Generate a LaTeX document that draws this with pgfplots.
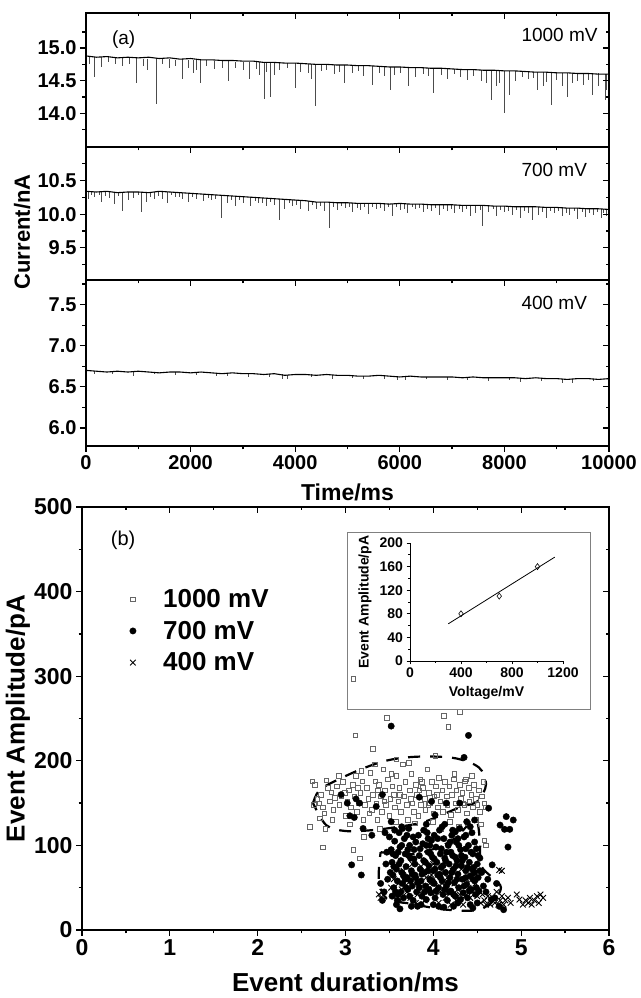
\documentclass[border=0pt]{standalone}
\usepackage{pgfplots}
\pgfplotsset{compat=1.18}
\usepackage{fontspec}
\setmainfont{Liberation Sans}

\tikzset{vlab/.style={font=\fontsize{19}{22}\selectfont, anchor=west}}
\pgfplotsset{
  frame/.style={scale only axis, anchor=south west,
    axis line style={line width=1.8pt}, tick style={line width=1.3pt, black},
    major tick length=6pt, minor tick length=3.5pt,
    tick align=outside, xtick pos=left, ytick pos=left,
    ticklabel style={font=\bfseries\fontsize{20}{24}\selectfont},
    /pgf/number format/assume math mode=true,
    /pgf/number format/set thousands separator={},
    scaled ticks=false},
  mirror/.style={scale only axis, anchor=south west, scaled ticks=false,
    axis line style={line width=1.8pt}, tick style={line width=1.3pt, black},
    major tick length=6pt, minor tick length=3.5pt,
    tick align=inside, xtick pos=right, ytick pos=right,
    xticklabels={}, yticklabels={}},
  pa/.style={width=523pt, xmin=0, xmax=10000,
    xtick={0,2000,...,10000}, minor xtick={1000,3000,...,9000},
    yticklabel style={/pgf/number format/.cd, fixed, fixed zerofill, precision=1}},
  p1/.style={pa, at={(86pt,851pt)}, height=134pt, ymin=13.48, ymax=15.54,
    ytick={14,14.5,15}, minor ytick={13.75,14.25,14.75,15.25}},
  p2/.style={pa, at={(86pt,718pt)}, height=133pt, ymin=9.02, ymax=11.0,
    ytick={9.5,10,10.5}, minor ytick={9.25,9.75,10.25,10.75}},
  p3/.style={pa, at={(86pt,552pt)}, height=166pt, ymin=5.78, ymax=7.8,
    ytick={6,6.5,7,7.5}, minor ytick={6.25,6.75,7.25,7.75}},
  pb/.style={at={(82pt,68pt)}, width=527pt, height=423pt,
    xmin=0, xmax=6, ymin=0, ymax=500,
    xtick={0,...,6}, minor xtick={0.5,1.5,...,5.5},
    ytick={0,100,...,500}, minor ytick={50,150,...,450}},
  trace/.style={black, mark=none, line width=1.1pt},
  spikes/.style={draw=none, mark=none, error bars/.cd, y dir=minus, y explicit,
    error mark=none, error bar style={draw=black!70, line width=0.6pt}},
}

\begin{document}
\begin{tikzpicture}
\useasboundingbox (0,0) rectangle (640pt,998pt);

% ---------- (a) 1000 mV ----------
\begin{axis}[frame, p1, xticklabels={}]
\addplot[spikes] table[x=t, y=b, y error=d] {
t b d
60 14.87 .12
160 14.87 .31
300 14.86 .15
420 14.86 .08
560 14.85 .10
700 14.85 .13
820 14.85 .09
967 14.86 .39
1100 14.84 .11
1180 14.84 .18
1348 14.85 .71
1450 14.83 .07
1600 14.83 .14
1700 14.82 .09
1844 14.83 .31
1950 14.82 .12
2050 14.81 .20
2100 14.81 .15
2194 14.82 .35
2300 14.81 .08
2450 14.80 .12
2600 14.80 .10
2715 14.80 .31
2850 14.79 .09
3000 14.79 .12
3129 14.79 .27
3250 14.78 .10
3320 14.78 .20
3402 14.78 .56
3450 14.78 .15
3524 14.78 .53
3600 14.77 .18
3700 14.77 .10
3850 14.77 .08
4007 14.77 .39
4100 14.76 .12
4250 14.76 .15
4300 14.75 .22
4388 14.75 .64
4500 14.75 .10
4600 14.75 .08
4750 14.74 .14
4850 14.74 .10
4942 14.74 .28
5100 14.73 .12
5200 14.73 .08
5300 14.73 .16
5482 14.73 .30
5600 14.72 .10
5700 14.72 .15
5813 14.71 .36
5900 14.71 .12
6000 14.71 .09
6167 14.70 .28
6300 14.70 .14
6450 14.70 .10
6550 14.69 .12
6640 14.69 .38
6800 14.69 .10
6900 14.68 .15
7050 14.68 .08
7150 14.68 .12
7300 14.67 .16
7400 14.67 .10
7550 14.67 .18
7650 14.66 .20
7740 14.66 .45
7850 14.66 .25
7900 14.66 .20
7994 14.65 .65
8102 14.65 .37
8200 14.65 .15
8350 14.64 .09
8450 14.64 .12
8550 14.64 .10
8629 14.63 .27
8750 14.63 .22
8800 14.63 .15
8903 14.63 .51
9000 14.63 .12
9100 14.62 .20
9201 14.62 .37
9300 14.62 .15
9400 14.62 .12
9500 14.61 .18
9600 14.61 .10
9678 14.61 .33
9800 14.61 .20
9921 14.60 .40
9950 14.60 .25
};
\addplot[trace] table {
0 14.88
200 14.86
400 14.87
600 14.85
800 14.86
1000 14.85
1200 14.86
1400 14.84
1600 14.85
1800 14.83
2000 14.84
2200 14.82
2400 14.82
2600 14.81
2800 14.81
3000 14.80
3200 14.80
3400 14.78
3600 14.78
3800 14.77
4000 14.77
4200 14.76
4400 14.75
4600 14.75
4800 14.74
5000 14.74
5200 14.73
5400 14.73
5600 14.72
5800 14.71
6000 14.71
6200 14.70
6400 14.70
6600 14.69
6800 14.69
7000 14.68
7200 14.67
7400 14.67
7600 14.66
7800 14.66
8000 14.65
8200 14.65
8400 14.64
8600 14.63
8800 14.63
9000 14.62
9200 14.62
9400 14.61
9600 14.61
9800 14.60
10000 14.60
};
\node[font=\fontsize{19}{22}\selectfont] at (rel axis cs:0.072,0.80) {(a)};
\node[vlab] at (rel axis cs:0.826,0.836) {1000 mV};
\end{axis}
\begin{axis}[mirror, p1]\end{axis}

% ---------- 700 mV ----------
\begin{axis}[frame, p2, xticklabels={}]
\addplot[spikes] table[x=t, y=b, y error=d] {
t b d
50 10.34 .12
100 10.34 .06
150 10.33 .08
250 10.33 .05
300 10.33 .15
370 10.34 .07
450 10.34 .10
550 10.33 .18
620 10.33 .06
700 10.33 .28
800 10.33 .12
900 10.33 .09
1000 10.33 .05
1062 10.33 .30
1150 10.32 .14
1230 10.32 .07
1300 10.33 .10
1380 10.33 .06
1450 10.34 .12
1550 10.33 .16
1630 10.33 .05
1700 10.33 .08
1780 10.32 .07
1850 10.32 .10
1950 10.31 .13
2030 10.31 .06
2100 10.31 .09
2250 10.30 .11
2330 10.29 .05
2400 10.29 .08
2480 10.29 .07
2589 10.28 .33
2700 10.28 .12
2780 10.27 .06
2850 10.27 .15
2930 10.26 .05
3000 10.26 .10
3150 10.25 .13
3230 10.25 .06
3300 10.25 .08
3380 10.24 .07
3450 10.24 .12
3530 10.23 .05
3600 10.23 .10
3702 10.23 .31
3800 10.22 .14
3880 10.22 .06
3950 10.21 .09
4030 10.21 .07
4100 10.20 .12
4250 10.20 .16
4330 10.19 .05
4400 10.18 .10
4480 10.18 .06
4550 10.18 .13
4656 10.18 .39
4730 10.17 .07
4800 10.17 .11
4880 10.17 .05
4950 10.17 .08
5030 10.17 .06
5100 10.17 .14
5180 10.16 .07
5250 10.16 .10
5330 10.16 .05
5400 10.16 .16
5480 10.16 .06
5550 10.16 .09
5630 10.16 .07
5700 10.16 .12
5780 10.15 .05
5850 10.15 .18
5930 10.16 .06
6000 10.16 .10
6080 10.15 .07
6150 10.15 .14
6230 10.15 .05
6300 10.15 .08
6380 10.15 .06
6450 10.15 .12
6530 10.14 .07
6600 10.14 .10
6680 10.14 .05
6750 10.14 .15
6830 10.14 .06
6900 10.14 .09
6980 10.14 .07
7050 10.14 .13
7130 10.13 .05
7200 10.13 .10
7280 10.13 .06
7350 10.13 .16
7450 10.13 .12
7530 10.13 .07
7582 10.13 .30
7700 10.13 .10
7780 10.12 .05
7850 10.12 .14
7930 10.12 .06
8000 10.12 .09
8080 10.12 .07
8150 10.11 .12
8230 10.11 .05
8300 10.11 .16
8380 10.11 .06
8450 10.11 .10
8530 10.11 .20
8650 10.11 .12
8730 10.10 .07
8800 10.10 .15
8880 10.10 .05
8950 10.10 .09
9030 10.10 .06
9100 10.10 .13
9180 10.09 .07
9250 10.09 .10
9330 10.09 .05
9400 10.09 .16
9480 10.09 .06
9550 10.08 .12
9630 10.08 .07
9700 10.08 .09
9780 10.08 .05
9850 10.08 .14
9900 10.07 .06
9950 10.07 .10
};
\addplot[trace] table {
0 10.34
200 10.33
400 10.34
600 10.32
800 10.33
1000 10.33
1200 10.32
1400 10.34
1600 10.33
1800 10.32
2000 10.31
2200 10.30
2400 10.29
2600 10.28
2800 10.27
3000 10.26
3200 10.25
3400 10.24
3600 10.23
3800 10.22
4000 10.21
4200 10.20
4400 10.18
4600 10.18
4800 10.17
5000 10.17
5200 10.16
5400 10.16
5600 10.16
5800 10.15
6000 10.16
6200 10.15
6400 10.15
6600 10.14
6800 10.14
7000 10.14
7200 10.13
7400 10.13
7600 10.13
7800 10.12
8000 10.12
8200 10.11
8400 10.11
8600 10.11
8800 10.10
9000 10.10
9200 10.09
9400 10.09
9600 10.08
9800 10.08
10000 10.07
};
\node[vlab] at (rel axis cs:0.826,0.827) {700 mV};
\end{axis}
\begin{axis}[mirror, p2]\end{axis}
\node[rotate=90, font=\bfseries\fontsize{22}{26}\selectfont] at (22pt,766pt) {Current/nA};

% ---------- 400 mV ----------
\begin{axis}[frame, p3, xlabel={Time/ms},
  xlabel style={at={(axis description cs:0.5,-0.277)}, anchor=center,
    font=\bfseries\fontsize{23}{26}\selectfont}]
\addplot[spikes] table[x=t, y=b, y error=d] {
t b d
150 6.69 .04
500 6.69 .03
900 6.68 .05
1300 6.68 .03
1700 6.68 .04
2100 6.67 .03
2500 6.67 .04
2700 6.66 .03
3100 6.66 .04
3500 6.65 .03
3750 6.65 .05
3850 6.64 .04
4300 6.65 .03
4700 6.64 .04
5100 6.64 .03
5300 6.63 .04
5700 6.63 .03
5950 6.63 .05
6100 6.62 .04
6500 6.62 .03
6900 6.62 .04
7300 6.61 .03
7700 6.61 .04
8100 6.61 .03
8300 6.61 .05
8700 6.60 .03
9100 6.60 .05
9300 6.59 .04
9700 6.60 .03
};
\addplot[trace] table {
0 6.70
200 6.69
400 6.68
600 6.69
800 6.68
1000 6.69
1200 6.68
1400 6.67
1600 6.68
1800 6.68
2000 6.67
2200 6.68
2400 6.67
2600 6.66
2800 6.67
3000 6.66
3200 6.66
3400 6.65
3600 6.66
3800 6.64
4000 6.65
4200 6.65
4400 6.64
4600 6.65
4800 6.64
5000 6.64
5200 6.63
5400 6.63
5600 6.64
5800 6.63
6000 6.62
6200 6.63
6400 6.62
6600 6.62
6800 6.62
7000 6.62
7200 6.61
7400 6.62
7600 6.61
7800 6.61
8000 6.61
8200 6.61
8400 6.60
8600 6.61
8800 6.60
9000 6.60
9200 6.59
9400 6.60
9600 6.60
9800 6.59
10000 6.60
};
\node[vlab] at (rel axis cs:0.826,0.861) {400 mV};
\end{axis}
\begin{axis}[mirror, p3]\end{axis}

% ---------- (b) ----------
\begin{axis}[frame, pb,
  ticklabel style={font=\bfseries\fontsize{23}{26}\selectfont},
  xlabel={Event duration/ms}, ylabel={Event Amplitude/pA},
  xlabel style={at={(axis description cs:0.5,-0.123)}, anchor=center},
  ylabel style={at={(axis description cs:-0.1215,0.5)}, anchor=center},
  label style={font=\bfseries\fontsize{26}{30}\selectfont},
  legend style={draw=none, fill=none, at={(0.075,0.815)}, anchor=north west,
    font=\bfseries\fontsize{26}{30}\selectfont, row sep=8pt},
  legend cell align=left,
  legend image code/.code={\path (0pt,0pt) (36pt,0pt);
    \draw[#1] plot coordinates {(8pt,0pt)};}]
\addplot[only marks, mark=square, mark size=2.3pt, black!60, mark options={line width=0.5pt}] table {
3.09 297
4.30 258
3.47 251
4.12 253
4.17 240
3.11 230
3.31 214
2.59 122
2.74 98
3.09 95
3.16 85
4.60 100
4.58 106
2.62 176
2.65 172
2.68 155
2.70 150
2.72 160
2.74 145
2.76 138
2.78 177
2.80 168
2.82 152
2.84 163
2.86 142
2.88 156
2.90 170
2.93 148
2.95 158
2.97 175
3.00 135
3.02 152
3.04 165
3.06 145
3.08 172
3.10 158
3.12 182
3.13 140
3.15 150
3.17 162
3.19 176
3.20 130
3.22 148
3.24 168
3.26 155
3.28 186
3.30 142
3.31 160
3.33 196
3.35 150
3.36 130
3.38 172
3.40 158
3.41 140
3.43 190
3.45 165
3.46 148
3.48 178
3.50 135
3.51 155
3.53 170
3.55 160
3.56 145
3.58 182
3.60 152
3.61 168
3.63 140
3.65 196
3.66 158
3.68 175
3.70 148
3.71 130
3.73 165
3.75 185
3.76 150
3.78 140
3.80 172
3.81 160
3.83 135
3.85 178
3.86 148
3.88 168
3.90 155
3.91 142
3.93 190
3.95 162
3.96 150
3.98 175
4.00 138
4.01 158
4.03 170
4.05 145
4.06 180
4.08 152
4.10 165
4.11 140
4.13 175
4.15 158
4.16 148
4.18 170
4.20 136
4.21 160
4.23 178
4.25 150
4.26 165
4.28 142
4.30 172
4.31 155
4.33 162
4.35 148
4.36 176
4.38 138
4.40 168
4.41 152
4.43 160
4.45 145
4.46 172
4.48 155
4.50 148
4.52 165
4.53 140
4.55 158
4.57 175
4.58 150
2.64 148
2.71 132
2.77 120
2.85 130
2.92 182
2.99 162
3.05 125
3.14 168
3.21 110
3.27 138
3.34 176
3.39 120
3.44 152
3.52 185
3.57 128
3.62 160
3.69 112
3.74 155
3.79 126
3.84 165
3.89 118
3.94 148
3.99 128
4.04 160
4.09 120
4.14 150
4.19 128
4.24 185
4.29 122
4.34 150
4.39 126
4.44 182
4.49 130
4.54 125
4.59 145
3.18 188
3.58 202
3.72 198
4.02 206
3.37 165
3.87 175
4.37 178
};
\addlegendentry{1000 mV}
\addplot[only marks, mark=*, mark size=3.2pt, black] table {
3.02 150
3.12 155
3.16 150
3.35 146
3.42 160
3.84 157
3.98 152
4.02 136
4.15 150
4.30 150
3.10 133
3.20 120
3.30 112
3.52 128
3.64 122
3.92 125
4.22 118
4.38 128
4.47 130
2.95 160
3.05 135
3.52 241
4.40 230
4.35 204
4.63 144
4.83 134
4.91 130
4.76 124
4.81 119
4.87 119
4.85 98
4.67 77
3.07 77
3.18 65
3.45 115
3.50 110
3.52 95
3.53 80
3.54 65
3.55 50
3.56 105
3.57 88
3.58 72
3.59 58
3.60 42
3.61 115
3.62 98
3.63 82
3.64 68
3.65 55
3.66 38
3.67 108
3.68 90
3.69 75
3.70 62
3.71 48
3.72 120
3.73 100
3.74 85
3.75 70
3.76 52
3.77 35
3.78 95
3.79 78
3.80 62
3.81 45
3.82 28
3.83 112
3.84 88
3.85 72
3.86 58
3.87 40
3.88 102
3.89 82
3.90 68
3.91 52
3.92 36
3.93 115
3.94 92
3.95 76
3.96 60
3.97 44
3.98 106
3.99 86
4.00 70
4.01 55
4.02 38
4.03 98
4.04 80
4.05 65
4.06 50
4.07 118
4.08 90
4.09 74
4.10 58
4.11 42
4.12 108
4.13 85
4.14 68
4.15 52
4.16 35
4.17 100
4.18 78
4.19 62
4.20 46
4.21 112
4.22 88
4.23 72
4.24 56
4.25 40
4.26 104
4.27 82
4.28 66
4.29 50
4.30 120
4.31 95
4.32 76
4.33 60
4.34 44
4.35 110
4.36 86
4.37 70
4.38 54
4.39 38
4.40 100
4.41 80
4.42 64
4.43 48
4.44 115
4.45 90
4.46 74
4.47 58
4.48 42
4.49 96
4.50 78
4.51 62
4.52 46
4.53 85
4.55 68
4.57 52
3.48 60
3.46 78
3.44 45
3.42 35
3.40 55
3.47 92
3.58 30
3.63 45
3.74 58
3.86 30
3.95 48
4.06 28
4.18 45
4.28 32
4.42 30
4.50 32
4.60 45
4.70 38
4.80 24
4.72 55
4.62 60
3.55 75
3.68 60
3.79 65
3.91 80
4.02 72
4.14 82
4.26 76
4.37 62
4.47 68
3.60 92
3.72 88
3.84 50
3.96 100
4.08 62
4.20 92
4.32 88
4.44 72
3.53 40
3.65 120
3.77 110
3.89 118
4.01 112
4.13 125
4.25 116
4.37 112
3.62 25
4.12 27
3.51 68
3.54 90
3.57 45
3.61 78
3.64 100
3.66 64
3.69 50
3.71 95
3.73 40
3.76 66
3.78 84
3.80 104
3.82 56
3.85 96
3.87 66
3.90 45
3.92 100
3.94 70
3.97 90
3.99 58
4.01 84
4.03 46
4.05 108
4.07 66
4.09 96
4.11 76
4.13 48
4.15 92
4.17 56
4.19 104
4.21 68
4.23 42
4.25 86
4.27 60
4.29 100
4.31 36
4.33 82
4.35 52
4.37 96
4.39 74
4.41 46
4.43 92
4.45 60
4.47 104
4.49 50
4.51 88
4.53 70
3.56 118
3.70 112
3.94 108
4.10 122
4.28 108
4.42 122
3.59 35
3.75 28
4.00 30
4.23 28
4.45 26
4.66 36
4.75 28
};
\addlegendentry{700 mV}
\addplot[only marks, mark=x, mark size=4pt, black, mark options={line width=0.9pt}] table {
3.38 42
3.40 38
3.42 45
3.55 60
3.58 40
3.62 35
3.66 70
3.70 45
3.74 38
3.78 60
3.82 42
3.86 75
3.90 35
3.94 48
3.98 65
4.02 40
4.06 32
4.10 55
4.14 38
4.18 45
4.22 70
4.26 35
4.30 42
4.34 30
4.38 60
4.42 38
4.46 65
4.50 40
4.54 32
4.58 35
4.62 40
4.65 30
4.68 38
4.70 32
4.72 45
4.74 30
4.76 35
4.78 40
4.80 30
4.75 71
4.78 70
4.82 35
4.85 38
4.88 32
4.95 42
4.98 36
5.02 30
5.05 35
5.08 32
5.10 38
5.12 30
5.15 35
5.18 40
5.20 32
5.22 42
5.25 38
3.60 55
3.68 52
3.76 78
3.84 55
3.92 62
4.00 78
4.08 45
4.16 62
4.24 55
4.32 72
4.40 50
4.48 55
3.64 48
3.80 32
3.96 55
4.12 68
4.28 48
4.44 45
4.56 42
3.52 50
3.88 42
4.20 30
4.36 40
4.60 30
};
\addlegendentry{400 mV}
\addplot[forget plot, black, line width=2.2pt, dash pattern=on 12pt off 10pt, smooth, tension=0.55] coordinates {
(2.63,150) (2.70,165) (2.88,176) (3.20,191) (3.50,201) (3.85,205) (4.25,203)
(4.52,192) (4.60,172) (4.50,152) (4.30,145) (3.90,128) (3.60,122) (3.30,118)
(3.00,117) (2.78,124) (2.63,150)};
\addplot[forget plot, black, line width=2.2pt, dash pattern=on 12pt off 10pt, smooth, tension=0.55] coordinates {
(3.40,92) (3.80,90) (4.20,105) (4.47,130) (4.53,106) (4.55,75) (4.77,50)
(4.55,25) (4.15,24) (3.75,31) (3.47,37) (3.38,60) (3.40,92)};
\node[font=\fontsize{20}{24}\selectfont] at (rel axis cs:0.078,0.922) {(b)};
\end{axis}
\begin{axis}[mirror, pb]\end{axis}

% ---------- inset ----------
\draw[black!50, line width=0.7pt] (347pt,289pt) rectangle (590pt,466pt);
\begin{axis}[at={(410pt,337pt)}, anchor=south west, scale only axis,
  width=153pt, height=118pt, xmin=0, xmax=1200, ymin=0, ymax=200,
  axis x line*=bottom, axis y line*=left, axis line style={-, line width=0.6pt},
  xtick={0,400,800,1200}, minor xtick={200,600,1000},
  ytick={0,40,...,200}, minor ytick={20,60,...,180},
  tick align=outside, tick style={line width=0.6pt, black},
  major tick length=3.5pt, minor tick length=2pt,
  ticklabel style={font=\bfseries\fontsize{14}{16}\selectfont},
  /pgf/number format/assume math mode=true,
  /pgf/number format/set thousands separator={},
  xlabel={Voltage/mV}, ylabel={Event Amplitude/pA},
  label style={font=\bfseries\fontsize{14}{16}\selectfont},
  xlabel style={at={(axis description cs:0.5,-0.271)}, anchor=center},
  ylabel style={at={(axis description cs:-0.294,0.5)}, anchor=center}]
\addplot[only marks, mark=diamond, mark size=3pt, black, mark options={line width=0.6pt}] coordinates {
(400,80) (700,110) (1000,160)};
\addplot[black, line width=0.8pt] coordinates {(300,63) (1135,176)};
\end{axis}
\end{tikzpicture}
\end{document}
